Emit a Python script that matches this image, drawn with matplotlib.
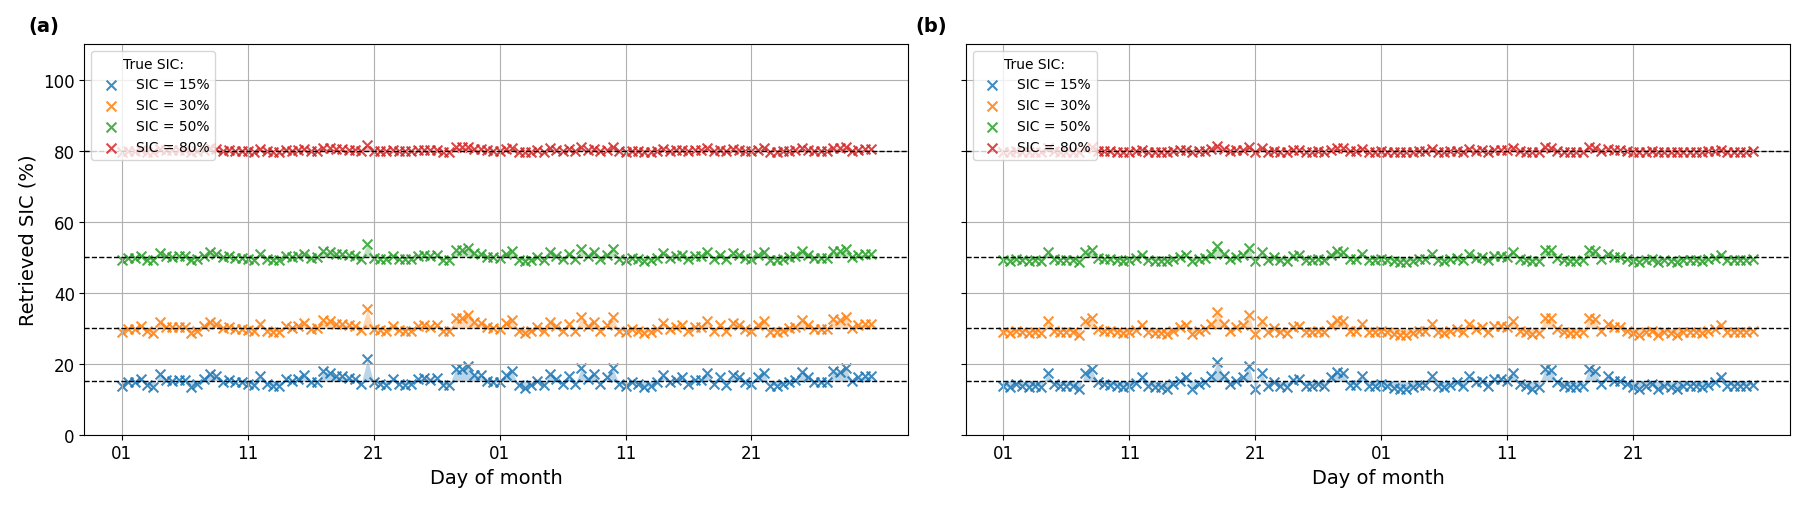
"""Retrieved vs true sea-ice concentration, two retrieval set-ups (a) and (b)."""

import matplotlib
matplotlib.use("Agg")
import matplotlib.pyplot as plt
import numpy as np

# ── Data ──────────────────────────────────────────────────────────────────────
# twice-daily retrievals over 60 days, x in days since the 1st of month one
DAYS = np.arange(120) * 0.5
TICK_DAYS   = [0, 10, 20, 30, 40, 50]
TICK_LABELS = ["01", "11", "21", "01", "11", "21"]

TRUE_SIC = [15, 30, 50, 80]
COLOURS  = ["tab:blue", "tab:orange", "tab:green", "tab:red"]

A_15 = [13.7, 14.7, 14.7, 15.7, 13.9, 13.5, 17.0, 15.4, 15.2, 15.5,
        15.5, 13.5, 14.2, 15.7, 17.2, 16.5, 14.9, 15.5, 14.7, 14.7,
        14.4, 13.9, 16.4, 14.2, 13.7, 13.7, 15.7, 15.0, 15.7, 16.7,
        14.7, 14.9, 17.8, 17.5, 16.5, 16.5, 15.9, 15.7, 14.4, 21.3,
        14.7, 14.4, 14.1, 15.7, 14.4, 14.1, 14.2, 15.7, 15.9, 15.5,
        15.9, 13.9, 13.9, 18.4, 18.4, 19.4, 16.9, 16.7, 15.2, 14.9,
        14.7, 16.7, 17.8, 13.9, 13.2, 13.9, 15.2, 13.9, 17.2, 15.7,
        14.2, 16.6, 14.2, 18.7, 15.7, 17.1, 14.2, 16.1, 18.7, 14.2,
        13.8, 14.7, 14.2, 13.3, 13.8, 14.7, 16.8, 14.7, 15.5, 16.1,
        14.2, 15.5, 15.5, 17.5, 14.2, 16.1, 14.0, 16.8, 16.1, 14.7,
        14.2, 16.1, 17.5, 13.8, 13.8, 14.2, 14.9, 15.5, 17.7, 16.1,
        14.7, 14.7, 14.7, 18.0, 17.7, 18.7, 15.0, 16.1, 16.4, 16.6]
A_30 = [28.9, 29.7, 29.7, 30.6, 29.1, 28.7, 31.7, 30.3, 30.2, 30.4,
        30.4, 28.7, 29.3, 30.6, 31.8, 31.3, 29.9, 30.4, 29.7, 29.7,
        29.5, 29.1, 31.2, 29.3, 28.9, 28.9, 30.6, 30.0, 30.6, 31.4,
        29.7, 29.9, 32.4, 32.1, 31.3, 31.3, 30.8, 30.6, 29.5, 35.3,
        29.7, 29.5, 29.2, 30.6, 29.5, 29.2, 29.3, 30.6, 30.8, 30.4,
        30.8, 29.1, 29.1, 32.9, 32.9, 33.7, 31.6, 31.4, 30.2, 29.9,
        29.7, 31.4, 32.4, 29.1, 28.5, 29.1, 30.2, 29.1, 31.8, 30.6,
        29.3, 31.3, 29.3, 33.1, 30.6, 31.8, 29.3, 30.9, 33.1, 29.3,
        29.0, 29.7, 29.3, 28.6, 29.0, 29.7, 31.5, 29.7, 30.4, 30.9,
        29.3, 30.4, 30.4, 32.1, 29.3, 30.9, 29.2, 31.5, 30.9, 29.7,
        29.3, 30.9, 32.1, 29.0, 29.0, 29.3, 29.9, 30.4, 32.3, 30.9,
        29.7, 29.7, 29.7, 32.5, 32.3, 33.1, 30.0, 30.9, 31.2, 31.3]
A_50 = [49.2, 49.8, 49.8, 50.4, 49.3, 49.1, 51.2, 50.2, 50.1, 50.3,
        50.3, 49.1, 49.5, 50.4, 51.3, 50.9, 49.9, 50.3, 49.8, 49.8,
        49.6, 49.3, 50.8, 49.5, 49.2, 49.2, 50.4, 50.0, 50.4, 51.0,
        49.8, 49.9, 51.7, 51.5, 50.9, 50.9, 50.5, 50.4, 49.6, 53.8,
        49.8, 49.6, 49.5, 50.4, 49.6, 49.5, 49.5, 50.4, 50.5, 50.3,
        50.5, 49.3, 49.3, 52.0, 52.0, 52.6, 51.1, 51.0, 50.1, 49.9,
        49.8, 51.0, 51.7, 49.3, 48.9, 49.3, 50.1, 49.3, 51.3, 50.4,
        49.5, 51.0, 49.5, 52.2, 50.4, 51.3, 49.5, 50.7, 52.2, 49.5,
        49.3, 49.8, 49.5, 49.0, 49.3, 49.8, 51.1, 49.8, 50.3, 50.7,
        49.5, 50.3, 50.3, 51.5, 49.5, 50.7, 49.4, 51.1, 50.7, 49.8,
        49.5, 50.7, 51.5, 49.3, 49.3, 49.5, 49.9, 50.3, 51.6, 50.7,
        49.8, 49.8, 49.8, 51.8, 51.6, 52.2, 50.0, 50.7, 50.8, 51.0]
A_80 = [79.7, 79.9, 79.9, 80.2, 79.7, 79.6, 80.5, 80.1, 80.1, 80.1,
        80.1, 79.6, 79.8, 80.2, 80.6, 80.4, 80.0, 80.1, 79.9, 79.9,
        79.8, 79.7, 80.4, 79.8, 79.7, 79.7, 80.2, 80.0, 80.2, 80.4,
        79.9, 80.0, 80.7, 80.6, 80.4, 80.4, 80.2, 80.2, 79.8, 81.6,
        79.9, 79.8, 79.8, 80.2, 79.8, 79.8, 79.8, 80.2, 80.2, 80.1,
        80.2, 79.7, 79.7, 80.9, 80.9, 81.1, 80.5, 80.4, 80.1, 80.0,
        79.9, 80.4, 80.7, 79.7, 79.6, 79.7, 80.1, 79.7, 80.6, 80.2,
        79.8, 80.4, 79.8, 80.9, 80.2, 80.5, 79.8, 80.3, 80.9, 79.8,
        79.7, 79.9, 79.8, 79.6, 79.7, 79.9, 80.5, 79.9, 80.1, 80.3,
        79.8, 80.1, 80.1, 80.6, 79.8, 80.3, 79.8, 80.5, 80.3, 79.9,
        79.8, 80.3, 80.6, 79.7, 79.7, 79.8, 80.0, 80.1, 80.7, 80.3,
        79.9, 79.9, 79.9, 80.8, 80.7, 80.9, 80.0, 80.3, 80.4, 80.4]

B_15 = [13.6, 13.3, 14.2, 13.8, 13.3, 13.8, 13.3, 17.4, 14.2, 13.8,
        13.8, 13.8, 12.8, 17.5, 18.5, 14.7, 14.2, 14.0, 13.6, 13.3,
        13.6, 14.5, 16.1, 13.8, 13.3, 13.3, 13.0, 14.2, 15.2, 16.1,
        13.0, 14.2, 14.7, 16.6, 20.4, 16.6, 14.2, 15.2, 16.1, 19.4,
        13.0, 17.4, 13.8, 14.9, 13.8, 13.3, 15.5, 15.8, 13.8, 13.8,
        14.2, 13.8, 16.1, 17.7, 17.5, 14.0, 14.0, 16.4, 13.8, 13.8,
        14.2, 13.8, 13.1, 12.8, 12.8, 13.3, 14.0, 14.0, 16.6, 13.8,
        13.3, 14.0, 14.7, 13.8, 16.6, 14.7, 15.2, 13.6, 15.7, 15.7,
        15.2, 17.5, 14.2, 13.8, 13.0, 13.3, 18.5, 18.3, 14.7, 13.8,
        13.3, 13.3, 13.8, 18.5, 18.0, 14.2, 16.4, 15.2, 15.2, 14.2,
        13.3, 12.8, 13.8, 14.2, 12.8, 13.8, 13.3, 12.8, 13.8, 13.8,
        13.8, 13.3, 14.0, 14.7, 16.1, 13.8, 13.8, 13.6, 13.8, 14.0]
B_30 = [28.8, 28.6, 29.3, 29.0, 28.6, 29.0, 28.6, 32.0, 29.3, 29.0,
        29.0, 29.0, 28.2, 32.1, 32.9, 29.7, 29.3, 29.2, 28.8, 28.6,
        28.8, 29.6, 30.9, 29.0, 28.6, 28.6, 28.3, 29.3, 30.2, 30.9,
        28.3, 29.3, 29.7, 31.3, 34.5, 31.3, 29.3, 30.2, 30.9, 33.7,
        28.3, 32.0, 29.0, 29.9, 29.0, 28.6, 30.4, 30.7, 29.0, 29.0,
        29.3, 29.0, 30.9, 32.3, 32.1, 29.2, 29.2, 31.2, 29.0, 29.0,
        29.3, 29.0, 28.4, 28.2, 28.2, 28.6, 29.2, 29.2, 31.3, 29.0,
        28.6, 29.2, 29.7, 29.0, 31.3, 29.7, 30.2, 28.8, 30.6, 30.6,
        30.2, 32.1, 29.3, 29.0, 28.3, 28.6, 32.9, 32.8, 29.7, 29.0,
        28.6, 28.6, 29.0, 32.9, 32.5, 29.3, 31.2, 30.2, 30.2, 29.3,
        28.6, 28.2, 29.0, 29.3, 28.2, 29.0, 28.6, 28.2, 29.0, 29.0,
        29.0, 28.6, 29.2, 29.7, 30.9, 29.0, 29.0, 28.8, 29.0, 29.2]
B_50 = [49.2, 49.0, 49.5, 49.3, 49.0, 49.3, 49.0, 51.4, 49.5, 49.3,
        49.3, 49.3, 48.7, 51.5, 52.1, 49.8, 49.5, 49.4, 49.2, 49.0,
        49.2, 49.7, 50.7, 49.3, 49.0, 49.0, 48.8, 49.5, 50.1, 50.7,
        48.8, 49.5, 49.8, 51.0, 53.2, 51.0, 49.5, 50.1, 50.7, 52.6,
        48.8, 51.4, 49.3, 49.9, 49.3, 49.0, 50.3, 50.5, 49.3, 49.3,
        49.5, 49.3, 50.7, 51.6, 51.5, 49.4, 49.4, 50.8, 49.3, 49.3,
        49.5, 49.3, 48.9, 48.7, 48.7, 49.0, 49.4, 49.4, 51.0, 49.3,
        49.0, 49.4, 49.8, 49.3, 51.0, 49.8, 50.1, 49.2, 50.4, 50.4,
        50.1, 51.5, 49.5, 49.3, 48.8, 49.0, 52.1, 52.0, 49.8, 49.3,
        49.0, 49.0, 49.3, 52.1, 51.8, 49.5, 50.8, 50.1, 50.1, 49.5,
        49.0, 48.7, 49.3, 49.5, 48.7, 49.3, 49.0, 48.7, 49.3, 49.3,
        49.3, 49.0, 49.4, 49.8, 50.7, 49.3, 49.3, 49.2, 49.3, 49.4]
B_80 = [79.7, 79.6, 79.8, 79.7, 79.6, 79.7, 79.6, 80.6, 79.8, 79.7,
        79.7, 79.7, 79.5, 80.6, 80.9, 79.9, 79.8, 79.8, 79.7, 79.6,
        79.7, 79.9, 80.3, 79.7, 79.6, 79.6, 79.5, 79.8, 80.1, 80.3,
        79.5, 79.8, 79.9, 80.4, 81.4, 80.4, 79.8, 80.1, 80.3, 81.1,
        79.5, 80.6, 79.7, 80.0, 79.7, 79.6, 80.1, 80.2, 79.7, 79.7,
        79.8, 79.7, 80.3, 80.7, 80.6, 79.8, 79.8, 80.4, 79.7, 79.7,
        79.8, 79.7, 79.5, 79.5, 79.5, 79.6, 79.8, 79.8, 80.4, 79.7,
        79.6, 79.8, 79.9, 79.7, 80.4, 79.9, 80.1, 79.7, 80.2, 80.2,
        80.1, 80.6, 79.8, 79.7, 79.5, 79.6, 80.9, 80.8, 79.9, 79.7,
        79.6, 79.6, 79.7, 80.9, 80.8, 79.8, 80.4, 80.1, 80.1, 79.8,
        79.6, 79.5, 79.7, 79.8, 79.5, 79.7, 79.6, 79.5, 79.7, 79.7,
        79.7, 79.6, 79.8, 79.9, 80.3, 79.7, 79.7, 79.7, 79.7, 79.8]

PANELS = [("(a)", [A_15, A_30, A_50, A_80]),
          ("(b)", [B_15, B_30, B_50, B_80])]


def draw_panel(ax, series):
    for true, retr, col in zip(TRUE_SIC, series, COLOURS):
        ax.fill_between(DAYS, true, retr, color=col, alpha=0.3, linewidth=0)
        ax.scatter(DAYS, retr, marker="x", color=col, s=50, alpha=0.85,
                   label=f"SIC = {true}%")
        ax.axhline(true, color="k", linestyle="--", linewidth=1)
    ax.set_ylim(0, 110)
    ax.set_xticks(TICK_DAYS)
    ax.set_xticklabels(TICK_LABELS)
    ax.tick_params(labelsize=12)
    ax.set_xlabel("Day of month", fontsize=14)
    ax.grid(True)
    ax.legend(title="True SIC:", loc="upper left", fontsize=10,
              title_fontsize=10)


def main():
    fig = plt.figure(figsize=(18.09, 5.06), dpi=100)
    ax_a = fig.add_axes([0.0467, 0.139, 0.4555, 0.772])
    ax_b = fig.add_axes([0.534, 0.139, 0.4555, 0.772], sharey=ax_a)

    for ax, (tag, series), xt in zip([ax_a, ax_b], PANELS, [0.0155, 0.506]):
        draw_panel(ax, series)
        fig.text(xt, 0.947, tag, fontsize=14, fontweight="bold",
                 ha="left", va="center")

    ax_a.set_ylabel("Retrieved SIC (%)", fontsize=14)
    ax_b.tick_params(labelleft=False)

    fig.savefig("out.png", dpi=100)


if __name__ == "__main__":
    main()
